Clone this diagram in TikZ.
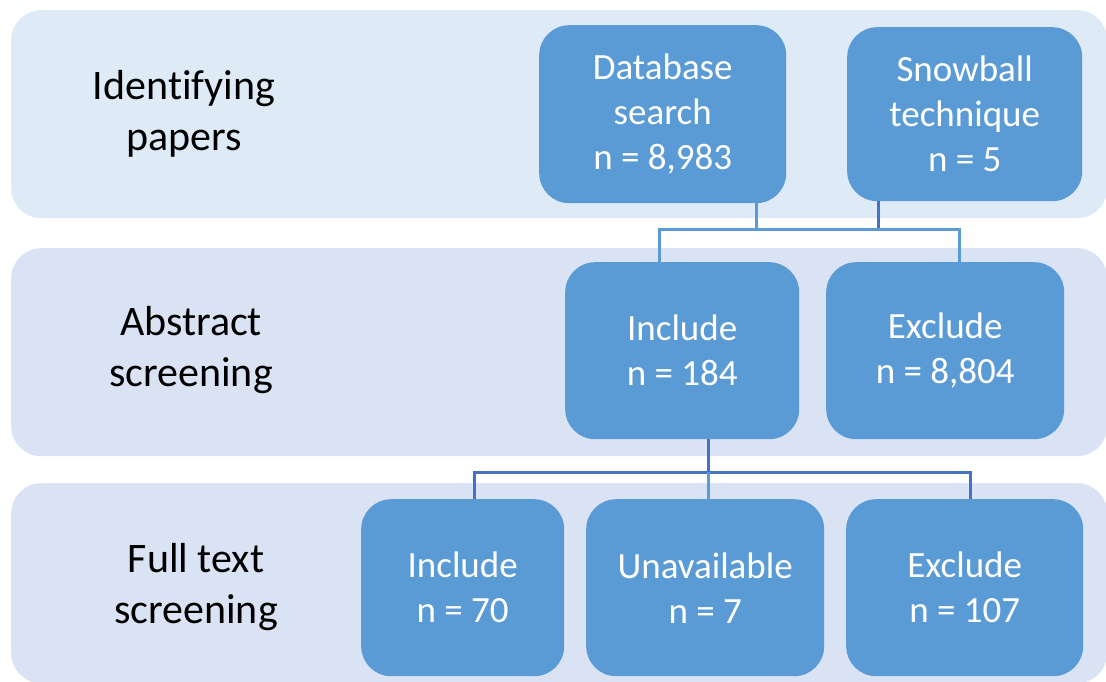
\documentclass[tikz,border=0pt]{standalone}
\usepackage{fontspec}
\setmainfont{Carlito}[Ligatures={NoCommon}]
\definecolor{bandA}{HTML}{DEEAF6}
\definecolor{bandB}{HTML}{DAE3F3}
\definecolor{boxblue}{HTML}{5B9BD5}
\definecolor{darkline}{HTML}{4472C4}
\begin{document}
\begin{tikzpicture}[x=1pt,y=-1pt,
  band/.style={rounded corners=30pt, inner sep=0pt, anchor=north west},
  stepbox/.style={fill=boxblue, rounded corners=30pt, inner sep=0pt, anchor=north west,
    text=white, align=center, font=\fontsize{37}{45}\selectfont},
  phaselabel/.style={align=center, text=black, font=\fontsize{42}{51}\selectfont},
  lnk/.style={draw=boxblue, line width=3pt},
  lnkdark/.style={draw=darkline, line width=3pt}]
\useasboundingbox (0,0) rectangle (1106,682);
\clip (0,0) rectangle (1106,682);

% phase bands
\node[band, fill=bandA, minimum width=1096pt, minimum height=208pt] (band1) at (11,10) {};
\node[band, fill=bandB, minimum width=1096pt, minimum height=208pt] (band2) at (11,248) {};
\node[band, fill=bandB, minimum width=1096pt, minimum height=200pt] (band3) at (11,483) {};

% phase labels
\node[phaselabel] (lab1) at (184,114) {Identifying\\papers};
\node[phaselabel] (lab2) at (191,350) {Abstract\\screening};
\node[phaselabel] (lab3) at (196,587) {Full text\\screening};

% boxes
\node[stepbox, minimum width=247pt, minimum height=178pt] (db) at (539,25) {Database\\search\\n = 8,983};
\node[stepbox, minimum width=235pt, minimum height=174pt] (snow) at (847,27) {Snowball\\technique\\n = 5};
\node[stepbox, minimum width=234pt, minimum height=177pt] (ainc) at (565,262) {Include\\n = 184};
\node[stepbox, minimum width=238pt, minimum height=177pt] (aexc) at (826,262) {Exclude\\n = 8,804};
\node[stepbox, minimum width=203pt, minimum height=177pt] (finc) at (361,499) {Include\\n = 70};
\node[stepbox, minimum width=238pt, minimum height=177pt] (fun) at (586,499) {Unavailable\\n = 7};
\node[stepbox, minimum width=237pt, minimum height=177pt] (fexc) at (846,499) {Exclude\\n = 107};

% junction points
\coordinate (j1) at (756,229);
\coordinate (j2) at (878,229);
\coordinate (hl) at (659,229);
\coordinate (hr) at (959,229);
\coordinate (k0) at (708,472);
\coordinate (kl) at (474,472);
\coordinate (kr) at (970,472);

% connectors: identification -> abstract screening
\draw[lnk] (db.south -| j1) -- (j1);
\draw[lnkdark] (snow.south -| j2) -- (j2);
\draw[lnk] (ainc.north -| hl) -- (hl) -- (hr) -- (aexc.north -| hr);

% connectors: abstract screening -> full text screening
\draw[lnkdark] (ainc.south -| k0) -- (k0);
\draw[lnkdark] (finc.north -| kl) -- (kl) -- (kr) -- (fexc.north -| kr);
\draw[lnk] (k0) -- (fun.north -| k0);
\end{tikzpicture}
\end{document}
